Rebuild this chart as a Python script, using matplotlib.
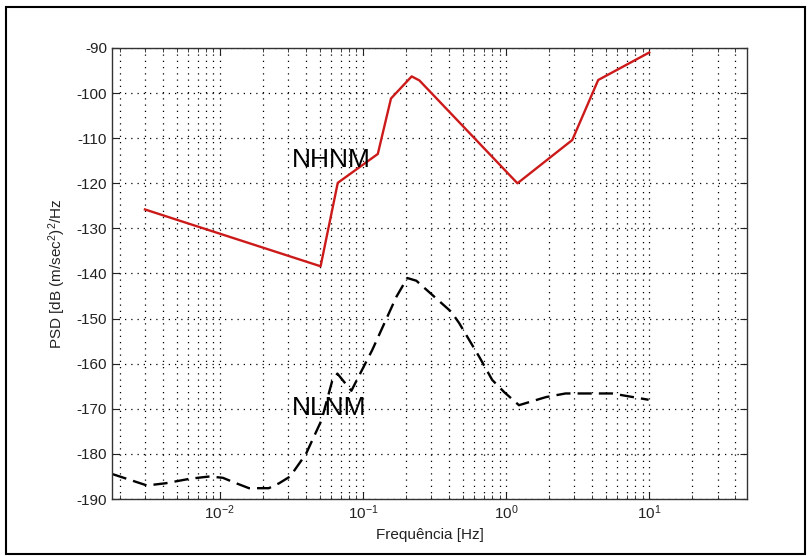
import matplotlib
matplotlib.use("Agg")
import matplotlib.pyplot as plt
from matplotlib.patches import Rectangle
from matplotlib.ticker import LogLocator, NullFormatter

plt.rcParams["font.family"] = ["Liberation Sans", "DejaVu Sans"]
plt.rcParams["mathtext.fontset"] = "custom"
plt.rcParams["mathtext.rm"] = "Liberation Sans"
plt.rcParams["mathtext.it"] = "Liberation Sans:italic"
plt.rcParams["axes.unicode_minus"] = False

# New High Noise Model
nhnm_freq = [0.0030, 0.0506, 0.0667, 0.127, 0.157, 0.219, 0.248, 1.2, 2.9, 4.4, 10.0]
nhnm_db = [-125.8, -138.4, -119.9, -113.5, -101.2, -96.3, -97.2, -120.0, -110.4, -97.1, -91.0]

# New Low Noise Model
nlnm_freq = [0.00179, 0.0031, 0.0042, 0.0062, 0.0085, 0.0105, 0.013, 0.016, 0.022,
             0.026, 0.031, 0.040, 0.0514, 0.061, 0.0663, 0.083, 0.116, 0.171,
             0.204, 0.236, 0.414, 0.47, 0.65, 0.80, 0.97, 1.23, 1.9, 2.6, 5.5, 9.9]
nlnm_db = [-184.5, -187.0, -186.5, -185.5, -185.0, -185.3, -186.5, -187.6, -187.6,
           -186.5, -185.0, -180.0, -172.5, -163.8, -162.2, -166.0, -157.0, -145.2,
           -141.0, -141.6, -148.5, -151.0, -158.5, -163.6, -166.3, -169.2, -167.4,
           -166.6, -166.6, -168.0]

fig = plt.figure(figsize=(8.11, 5.56), dpi=100)
ax = fig.add_axes([0.1381, 0.1025, 0.7830, 0.8112])

ax.semilogx(nhnm_freq, nhnm_db, color="#cc1a1a", lw=1.7)
ax.semilogx(nlnm_freq, nlnm_db, color="black", lw=1.7, dashes=(6, 3))

ax.text(0.032, -114.8, "NHNM", fontsize=19, ha="left", va="center")
ax.text(0.032, -169.8, "NLNM", fontsize=19, ha="left", va="center")

ax.set_xlim(10 ** -2.753, 10 ** 1.683)
ax.set_ylim(-190, -90)
ax.set_yticks(range(-190, -89, 10))
ax.xaxis.set_major_locator(LogLocator(base=10, numticks=10))
ax.xaxis.set_minor_locator(LogLocator(base=10, subs=range(2, 10), numticks=20))
ax.xaxis.set_minor_formatter(NullFormatter())

ax.grid(True, which="major", axis="both", color="black", ls=(0, (1, 4)), lw=0.9)
ax.grid(True, which="minor", axis="x", color="black", ls=(0, (1, 4)), lw=0.9)
ax.tick_params(which="both", direction="in", top=True, right=True, labelsize=11, colors="#222222")
ax.tick_params(which="major", length=5)
ax.tick_params(which="minor", length=3)
for sp in ax.spines.values():
    sp.set_color("#333333")
    sp.set_linewidth(1.0)

ax.set_xlabel("Frequência [Hz]", fontsize=11, color="#222222", labelpad=4)
ax.set_ylabel("PSD [dB (m/sec$^2$)$^2$/Hz", fontsize=11, color="#222222", labelpad=6)

# screenshot frame around the whole figure
fig.patches.append(Rectangle((6 / 811, 2 / 556), 799 / 811, 547 / 556,
                             transform=fig.transFigure, fill=False,
                             edgecolor="black", lw=1.5))

fig.savefig("out.png", dpi=100)
